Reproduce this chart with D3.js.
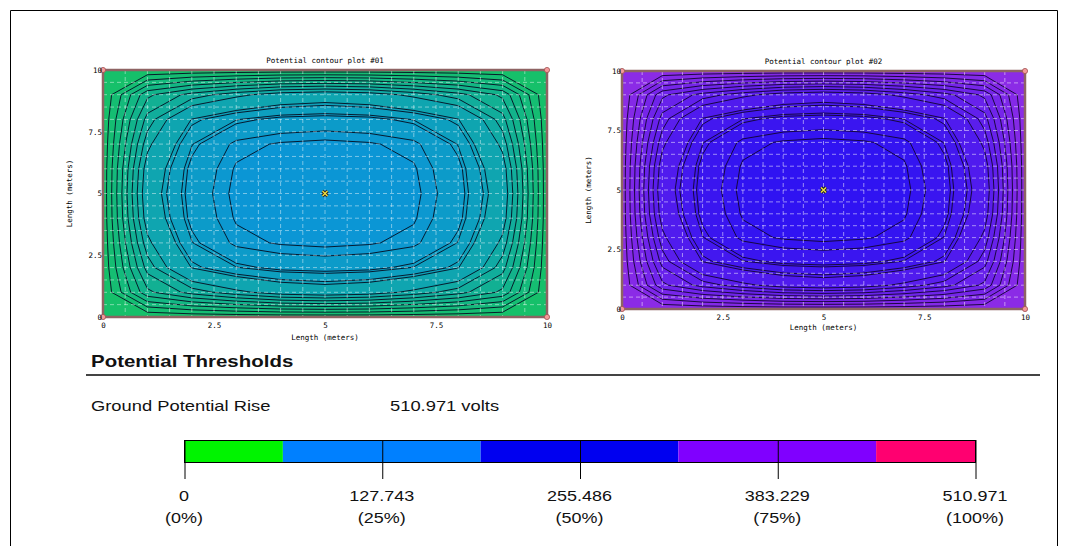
<!DOCTYPE html>
<html>
<head>
<meta charset="utf-8">
<script src="https://cdn.jsdelivr.net/npm/d3@7"></script>
<style>
  body { margin: 0; background: #fff; }
  svg { display: block; }
  .pix { font-family: "DejaVu Sans Mono", monospace; font-size: 7.5px; fill: #000; }
  .ui { font-family: "Liberation Sans", Arial, sans-serif; fill: #111; }
</style>
</head>
<body>
<svg id="chart" width="1077" height="546"></svg>
<script>
// potential as % of GPR on the 11 x 11 node grid (1 m step), top row = 10 m
const surfacePct = [
  [5.0, 5.2, 5.4, 5.5, 5.6, 5.6, 5.6, 5.5, 5.4, 5.2, 5.0],
  [5.2, 14.5, 17.8, 20.3, 22.3, 23.0, 22.3, 20.3, 17.8, 14.5, 5.2],
  [5.4, 17.8, 25.0, 27.5, 28.7, 29.0, 28.7, 27.5, 25.0, 17.8, 5.4],
  [5.5, 20.3, 27.5, 30.9, 31.7, 32.0, 31.7, 30.9, 27.5, 20.3, 5.5],
  [5.6, 22.3, 28.7, 31.7, 32.1, 32.4, 32.1, 31.7, 28.7, 22.3, 5.6],
  [5.6, 23.0, 29.0, 32.0, 32.4, 32.8, 32.4, 32.0, 29.0, 23.0, 5.6],
  [5.6, 22.3, 28.7, 31.7, 32.1, 32.4, 32.1, 31.7, 28.7, 22.3, 5.6],
  [5.5, 20.3, 27.5, 30.9, 31.7, 32.0, 31.7, 30.9, 27.5, 20.3, 5.5],
  [5.4, 17.8, 25.0, 27.5, 28.7, 29.0, 28.7, 27.5, 25.0, 17.8, 5.4],
  [5.2, 14.5, 17.8, 20.3, 22.3, 23.0, 22.3, 20.3, 17.8, 14.5, 5.2],
  [5.0, 5.2, 5.4, 5.5, 5.6, 5.6, 5.6, 5.5, 5.4, 5.2, 5.0]
];
const surfaceLevels = [7, 9, 11, 13, 15, 17, 19, 21, 24.9, 25.6, 27.6, 28.1, 30.4, 31.5];

const touchPct = [
  [85.0, 84.8, 84.6, 84.5, 84.4, 84.4, 84.4, 84.5, 84.6, 84.8, 85.0],
  [84.8, 75.5, 72.2, 69.7, 67.7, 67.0, 67.7, 69.7, 72.2, 75.5, 84.8],
  [84.6, 72.2, 65.0, 62.5, 61.3, 61.0, 61.3, 62.5, 65.0, 72.2, 84.6],
  [84.5, 69.7, 62.5, 59.1, 58.3, 58.0, 58.3, 59.1, 62.5, 69.7, 84.5],
  [84.4, 67.7, 61.3, 58.3, 57.9, 57.6, 57.9, 58.3, 61.3, 67.7, 84.4],
  [84.4, 67.0, 61.0, 58.0, 57.6, 57.2, 57.6, 58.0, 61.0, 67.0, 84.4],
  [84.4, 67.7, 61.3, 58.3, 57.9, 57.6, 57.9, 58.3, 61.3, 67.7, 84.4],
  [84.5, 69.7, 62.5, 59.1, 58.3, 58.0, 58.3, 59.1, 62.5, 69.7, 84.5],
  [84.6, 72.2, 65.0, 62.5, 61.3, 61.0, 61.3, 62.5, 65.0, 72.2, 84.6],
  [84.8, 75.5, 72.2, 69.7, 67.7, 67.0, 67.7, 69.7, 72.2, 75.5, 84.8],
  [85.0, 84.8, 84.6, 84.5, 84.4, 84.4, 84.4, 84.5, 84.6, 84.8, 85.0]
];
const touchLevels = [58.5, 59.6, 61.9, 62.4, 64.4, 65.1, 69, 71, 73, 75, 77, 79, 81, 83];

const axisTicks = [0, 2.5, 5, 7.5, 10];
const gridExtent = [0, 10];
const sourcePoint = [5, 5];

const gpr = 510.971;
const barTicks = [0, 127.743, 255.486, 383.229, 510.971];
const barTickPct = ['0%', '25%', '50%', '75%', '100%'];
const bandEdgesPct = [0, 12.5, 37.5, 62.5, 87.5, 100];
const bandColors = ['#00f400', '#0080ff', '#0000f0', '#8000ff', '#ff0070'];

const svg = d3.select('#chart');

// page frame
svg.append('path')
  .attr('d', 'M10.5,546V10.5H1057.5V546')
  .attr('fill', 'none')
  .attr('stroke', '#000')
  .attr('stroke-width', 1);

function drawPanel(p, idx) {
  const x = d3.scaleLinear().domain(gridExtent).range([p.x0, p.x1]);
  const y = d3.scaleLinear().domain(gridExtent).range([p.y1, p.y0]);
  const n = p.grid.length;
  const step = (gridExtent[1] - gridExtent[0]) / (n - 1);
  const values = p.grid.flat();
  const ext = d3.extent(values);
  const color = d3.scaleLinear().domain(ext).range(p.colors);

  const contours = d3.contours().size([n, n]).thresholds(p.levels)(values);
  const proj = d3.geoTransform({
    point(gx, gy) {
      this.stream.point(x((gx - 0.5) * step), y(gridExtent[1] - (gy - 0.5) * step));
    }
  });
  const path = d3.geoPath(proj);

  const g = svg.append('g');
  const clipId = 'clip' + idx;
  g.append('clipPath').attr('id', clipId)
    .append('rect')
    .attr('x', p.x0).attr('y', p.y0)
    .attr('width', p.x1 - p.x0).attr('height', p.y1 - p.y0);

  const body = g.append('g').attr('clip-path', `url(#${clipId})`);

  body.append('rect')
    .attr('x', p.x0).attr('y', p.y0)
    .attr('width', p.x1 - p.x0).attr('height', p.y1 - p.y0)
    .attr('fill', color((ext[0] + p.levels[0]) / 2));

  body.selectAll('path.band')
    .data(contours)
    .join('path')
      .attr('class', 'band')
      .attr('d', path)
      .attr('fill', (d, i) => {
        const hi = i < p.levels.length - 1 ? p.levels[i + 1] : ext[1];
        return color((d.value + hi) / 2);
      });

  body.selectAll('path.iso')
    .data(contours)
    .join('path')
      .attr('class', 'iso')
      .attr('d', path)
      .attr('fill', 'none')
      .attr('stroke', p.lineColor)
      .attr('stroke-width', 1);

  // dashed grid every 0.5 m
  const gridTicks = x.ticks(20);
  body.selectAll('line.gx')
    .data(gridTicks)
    .join('line')
      .attr('x1', d => x(d)).attr('x2', d => x(d))
      .attr('y1', p.y0).attr('y2', p.y1)
      .attr('stroke', p.gridColor)
      .attr('stroke-dasharray', '4,3');
  body.selectAll('line.gy')
    .data(gridTicks)
    .join('line')
      .attr('y1', d => y(d)).attr('y2', d => y(d))
      .attr('x1', p.x0).attr('x2', p.x1)
      .attr('stroke', p.gridColor)
      .attr('stroke-dasharray', '4,3');

  // border + corner markers
  g.append('rect')
    .attr('x', p.x0).attr('y', p.y0)
    .attr('width', p.x1 - p.x0).attr('height', p.y1 - p.y0)
    .attr('fill', 'none')
    .attr('stroke', '#8e6363')
    .attr('stroke-width', 2.5);

  const corners = [[0, 0], [0, 10], [10, 0], [10, 10]];
  g.selectAll('circle.corner')
    .data(corners)
    .join('circle')
      .attr('cx', d => x(d[0])).attr('cy', d => y(d[1]))
      .attr('r', 2.6)
      .attr('fill', '#f49a9a')
      .attr('stroke', '#a05050')
      .attr('stroke-width', 0.8);

  // source point marker
  const cx = x(sourcePoint[0]), cy = y(sourcePoint[1]);
  const mark = `M${cx - 2.5},${cy - 2.5}L${cx + 2.5},${cy + 2.5}M${cx - 2.5},${cy + 2.5}L${cx + 2.5},${cy - 2.5}`;
  g.append('path').attr('d', mark).attr('stroke', '#222').attr('stroke-width', 3.2);
  g.append('path').attr('d', mark).attr('stroke', '#f0e040').attr('stroke-width', 1.4);

  // axes
  const xAxis = d3.axisBottom(x).tickValues(axisTicks).tickSize(0).tickPadding(0)
    .tickFormat(d3.format('~g'));
  const xa = g.append('g')
    .attr('transform', `translate(0,${p.y1 + 11})`)
    .call(xAxis);
  xa.select('.domain').remove();
  xa.selectAll('text').attr('class', 'pix').attr('dy', null).attr('y', 0);

  const yAxis = d3.axisLeft(y).tickValues(axisTicks).tickSize(0).tickPadding(0)
    .tickFormat(d3.format('~g'));
  const ya = g.append('g')
    .attr('transform', `translate(${p.x0 - 1},0)`)
    .call(yAxis);
  ya.select('.domain').remove();
  ya.selectAll('text').attr('class', 'pix').attr('dy', '0.32em').attr('x', 0);

  g.append('text')
    .attr('class', 'pix')
    .attr('x', (p.x0 + p.x1) / 2).attr('y', p.y0 - 7)
    .attr('text-anchor', 'middle')
    .text(p.title);

  g.append('text')
    .attr('class', 'pix')
    .attr('x', (p.x0 + p.x1) / 2).attr('y', p.y1 + p.xLabelGap)
    .attr('text-anchor', 'middle')
    .text('Length (meters)');

  g.append('text')
    .attr('class', 'pix')
    .attr('transform', `translate(${p.x0 - 31},${(p.y0 + p.y1) / 2}) rotate(-90)`)
    .attr('text-anchor', 'middle')
    .text('Length (meters)');
}

drawPanel({
  x0: 103, x1: 547, y0: 70, y1: 317,
  grid: surfacePct, levels: surfaceLevels,
  colors: ['#16c266', '#0b95d8'], lineColor: 'rgba(5,15,35,0.92)',
  gridColor: 'rgba(255,255,255,0.45)',
  title: 'Potential contour plot #01', xLabelGap: 23
}, 1);

drawPanel({
  x0: 622, x1: 1025, y0: 71, y1: 309,
  grid: touchPct, levels: touchLevels,
  colors: ['#2e12f2', '#8e2ce6'], lineColor: 'rgba(20,5,50,0.92)',
  gridColor: 'rgba(255,255,255,0.5)',
  title: 'Potential contour plot #02', xLabelGap: 21
}, 2);

// ---- thresholds section ----
function stretchedText(x, y, str, size, weight, anchor) {
  return svg.append('text')
    .attr('class', 'ui')
    .attr('transform', `translate(${x},${y}) scale(1.24,1)`)
    .attr('font-size', size)
    .attr('font-weight', weight || 'normal')
    .attr('text-anchor', anchor || 'start')
    .text(str);
}

stretchedText(91, 367, 'Potential Thresholds', 16.5, 'bold');
svg.append('line')
  .attr('x1', 86).attr('x2', 1040)
  .attr('y1', 375).attr('y2', 375)
  .attr('stroke', '#444').attr('stroke-width', 2);

stretchedText(91, 411, 'Ground Potential Rise', 14.8);
stretchedText(390, 411, `${gpr} volts`, 14.8);

const bx = d3.scaleLinear().domain([0, gpr]).range([184, 975]);
const bands = d3.pairs(bandEdgesPct).map((e, i) => ({ lo: e[0] / 100 * gpr, hi: e[1] / 100 * gpr, c: bandColors[i] }));

svg.selectAll('rect.band')
  .data(bands)
  .join('rect')
    .attr('x', d => bx(d.lo)).attr('width', d => bx(d.hi) - bx(d.lo))
    .attr('y', 440).attr('height', 22)
    .attr('fill', d => d.c);

svg.append('rect')
  .attr('x', 184.5).attr('y', 440.5)
  .attr('width', 791).attr('height', 22)
  .attr('fill', 'none').attr('stroke', '#000');

const barAxis = svg.append('g')
  .attr('transform', 'translate(0.5,440)')
  .call(d3.axisBottom(bx).tickValues(barTicks).tickSize(39).tickFormat(''));
barAxis.select('.domain').remove();
barAxis.selectAll('line').attr('stroke', '#000');

barTicks.forEach((v, i) => {
  stretchedText(bx(v), 501, d3.format('~f')(v), 14.5, 'normal', 'middle');
  stretchedText(bx(v), 523, `(${barTickPct[i]})`, 14.5, 'normal', 'middle');
});
</script>
</body>
</html>
